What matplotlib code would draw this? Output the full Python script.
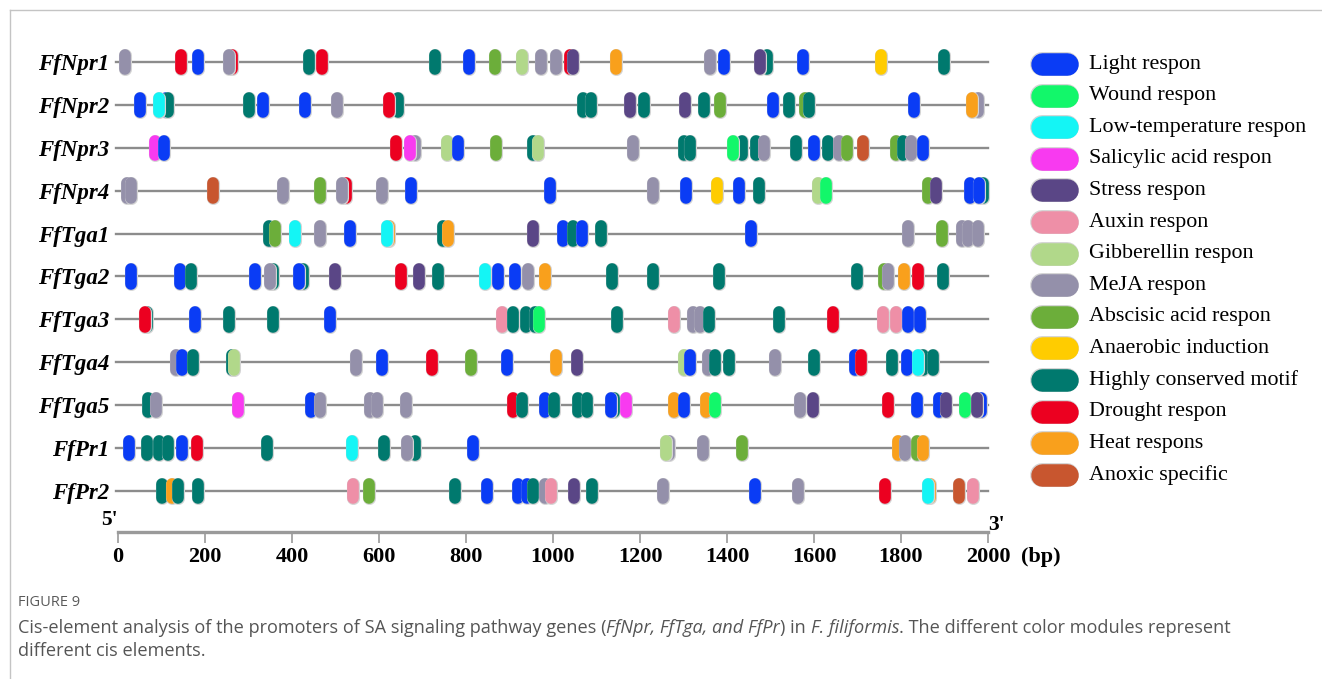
import matplotlib
matplotlib.use("Agg")
import matplotlib.pyplot as plt
import matplotlib.patheffects as pe
from matplotlib.lines import Line2D

# tipos de elementos cis (codigo -> etiqueta y color)
codigos = ["L", "W", "C", "S", "T", "A", "G", "M", "B", "N", "H", "D", "E", "X"]
etiquetas = ["Light respon", "Wound respon", "Low-temperature respon",
             "Salicylic acid respon", "Stress respon", "Auxin respon",
             "Gibberellin respon", "MeJA respon", "Abscisic acid respon",
             "Anaerobic induction", "Highly conserved motif", "Drought respon",
             "Heat respons", "Anoxic specific"]
colores = ["#0a3cf5", "#12f76a", "#14f5f5", "#f83af0", "#5a4686", "#ee8fa7",
           "#b1d88a", "#9490aa", "#6cae3a", "#ffcc00", "#00796e", "#ec0020",
           "#f9a01c", "#c8562f"]

genes = ["FfNpr1", "FfNpr2", "FfNpr3", "FfNpr4", "FfTga1", "FfTga2",
         "FfTga3", "FfTga4", "FfTga5", "FfPr1", "FfPr2"]

# posiciones (bp) y tipo de cada elemento, en orden de dibujo
npr1_pos = [16, 145, 183, 262, 256, 439, 470, 728, 807, 867, 929, 972, 1007,
            1040, 1047, 1145, 1362, 1392, 1491, 1476, 1575, 1753, 1899]
npr1_tipo = "M D L D M H D H L B G M M D T E M L H T L N H".split()

npr2_pos = [51, 110, 116, 94, 302, 334, 430, 503, 644, 624, 1070, 1087, 1178,
            1210, 1303, 1347, 1385, 1505, 1543, 1579, 1589, 1830, 1978, 1964]
npr2_tipo = "L L H C H L L M H D H H T H T H B L H B H L M E".split()

npr3_pos = [85, 106, 639, 683, 671, 756, 782, 870, 955, 965, 1185, 1300, 1316,
            1435, 1414, 1467, 1486, 1559, 1600, 1633, 1657, 1675, 1712, 1789,
            1805, 1823, 1850]
npr3_tipo = "S L D M S G L B H G M H H H W H M H L H M B X B H M L".split()

npr4_pos = [20, 31, 218, 380, 464, 524, 514, 608, 673, 993, 1231, 1306, 1376,
            1428, 1474, 1610, 1628, 1861, 1880, 1989, 1959, 1980]
npr4_tipo = "M M X M B D M M L L M L N L H G W B T H L L".split()

tga1_pos = [346, 362, 408, 464, 533, 622, 618, 748, 759, 955, 1024, 1047,
            1067, 1110, 1455, 1817, 1894, 1940, 1955, 1978]
tga1_tipo = "H B C M L E C H E T L H L H L M B M M M".split()

tga2_pos = [29, 143, 167, 315, 356, 349, 426, 415, 499, 651, 693, 736, 844,
            874, 913, 942, 982, 1135, 1231, 1382, 1698, 1760, 1769, 1808, 1838,
            1897]
tga2_tipo = "L L H L H M H L T D T H C L L M E H H H H B M E D H".split()

tga3_pos = [66, 62, 177, 256, 356, 487, 882, 909, 938, 959, 968, 1148, 1279,
            1321, 1338, 1359, 1520, 1644, 1758, 1789, 1817, 1844]
tga3_tipo = "H D L H H L A H H H W H A M M H H D A A L L".split()

tga4_pos = [133, 146, 172, 261, 267, 547, 608, 721, 811, 895, 1006, 1056,
            1300, 1315, 1356, 1372, 1405, 1510, 1600, 1694, 1708, 1779, 1813,
            1850, 1838, 1873]
tga4_tipo = "M L H H G M L D B L E T G L M H H M H L D H L H C H".split()

tga5_pos = [68, 87, 275, 443, 464, 579, 595, 661, 907, 929, 982, 1002, 1058,
            1079, 1140, 1133, 1168, 1278, 1300, 1352, 1372, 1568, 1597, 1769,
            1836, 1888, 1903, 1947, 1983, 1974]
tga5_tipo = "H M S L M M M M D H L H H H H L S E L E W M T D L L T W L T".split()

pr1_pos = [25, 66, 95, 114, 146, 182, 342, 537, 612, 683, 665, 817, 1267,
           1260, 1344, 1434, 1794, 1809, 1836, 1850]
pr1_tipo = "L H H H L D H C H H M L M G M B E M B E".split()

pr2_pos = [100, 123, 137, 185, 541, 578, 775, 848, 920, 940, 955, 982, 995,
           1049, 1089, 1254, 1464, 1564, 1763, 1866, 1861, 1934, 1966]
pr2_tipo = "H E H H A B H L L L H M A T H M L M D E C X A".split()

posiciones = [npr1_pos, npr2_pos, npr3_pos, npr4_pos, tga1_pos, tga2_pos,
              tga3_pos, tga4_pos, tga5_pos, pr1_pos, pr2_pos]
tipos = [npr1_tipo, npr2_tipo, npr3_tipo, npr4_tipo, tga1_tipo, tga2_tipo,
         tga3_tipo, tga4_tipo, tga5_tipo, pr1_tipo, pr2_tipo]

ticks_bp = list(range(0, 2001, 200))

color_de = dict(zip(codigos, colores))
W, H = 1322, 679
gris = "#8c8c8c"

fig = plt.figure(figsize=(W / 100, H / 100), dpi=100)

# ---- panel principal ----
ax = fig.add_axes([118 / W, (H - 575) / H, 870 / W, 545 / H])
paso = 42.9  # separacion entre filas en pixeles
ax.set_xlim(0, 2000)
ax.set_ylim((575 - 62) / paso, (30 - 62) / paso)
eje_y = (532 - 62) / paso

for i, gen in enumerate(genes):
    ax.plot([-5, 2000], [i, i], color=gris, lw=1.7, zorder=1, clip_on=False)
    for x, t in zip(posiciones[i], tipos[i]):
        ax.plot([x, x], [i - 0.17, i + 0.17], color=color_de[t], lw=8.4,
                solid_capstyle="round", zorder=2, clip_on=False,
                path_effects=[pe.Stroke(linewidth=9.4, foreground="#d4d4d4"),
                              pe.Normal()])

ax.set_yticks(range(len(genes)))
ax.set_yticklabels(genes, family="Liberation Serif", weight="bold",
                   style="italic", fontsize=16.5)
ax.tick_params(axis="y", length=0, pad=6)

for lado in ["top", "right", "left"]:
    ax.spines[lado].set_visible(False)
ax.spines["bottom"].set_position(("data", eje_y))
ax.spines["bottom"].set_color("#9a9a9a")
ax.spines["bottom"].set_linewidth(2.4)
ax.set_xticks(ticks_bp)
ax.set_xticklabels([str(t) for t in ticks_bp], family="Liberation Serif",
                   weight="bold", fontsize=16)
ax.tick_params(axis="x", direction="out", length=8, width=1.2,
               color="#9a9a9a", pad=3)

ax.text(0, eje_y - 0.05, "5'", ha="right", va="bottom", family="Liberation Serif",
        weight="bold", fontsize=15.5)
ax.text(2000, eje_y + 0.08, "3'", ha="left", va="bottom", family="Liberation Serif",
        weight="bold", fontsize=15.5)
ax.annotate("(bp)", xy=(2000, eje_y), xytext=(24, -18), textcoords="offset points",
            ha="left", va="center", family="Liberation Serif", weight="bold",
            fontsize=16, annotation_clip=False)

# ---- leyenda ----
lax = fig.add_axes([1020 / W, 0, 302 / W, 1])
lax.set_xlim(0, 1)
lax.set_ylim((679 - 64) / 31.6, -64 / 31.6)
lax.axis("off")
for k, (c, lab) in enumerate(zip(colores, etiquetas)):
    lax.plot([0.073, 0.156], [k, k], color=c, lw=16.2, solid_capstyle="round",
             path_effects=[pe.Stroke(linewidth=17.2, foreground="#d4d4d4"),
                           pe.Normal()])
    lax.text(0.228, k, lab, ha="left", va="center", family="Liberation Serif",
             fontsize=15.8)

# ---- marco y pie de figura ----
fig.add_artist(Line2D([10 / W, 10 / W], [0, 1 - 10 / H], color="#c4c4c4", lw=1))
fig.add_artist(Line2D([10 / W, 1], [1 - 10 / H, 1 - 10 / H], color="#c4c4c4", lw=1))

fig.text(18 / W, 1 - 602 / H, "FIGURE 9", family="Open Sans", fontsize=10.5,
         color="#5a5a5a", va="center")

piezas = [("Cis-element analysis of the promoters of SA signaling pathway genes (", "normal"),
          ("FfNpr, FfTga, and FfPr", "italic"),
          (") in ", "normal"),
          ("F. filiformis", "italic"),
          (". The different color modules represent", "normal")]
previo = fig.text(18 / W, 1 - 628 / H, piezas[0][0], family="Open Sans",
                  fontsize=13.1, color="#555555", va="center")
for txt, estilo in piezas[1:]:
    previo = ax.annotate(txt, xy=(1, 0), xycoords=previo, ha="left", va="bottom",
                         family="Open Sans", style=estilo, fontsize=13.1,
                         color="#555555")
fig.text(18 / W, 1 - 651 / H, "different cis elements.", family="Open Sans",
         fontsize=13.1, color="#555555", va="center")

fig.savefig("out.png", dpi=100)
